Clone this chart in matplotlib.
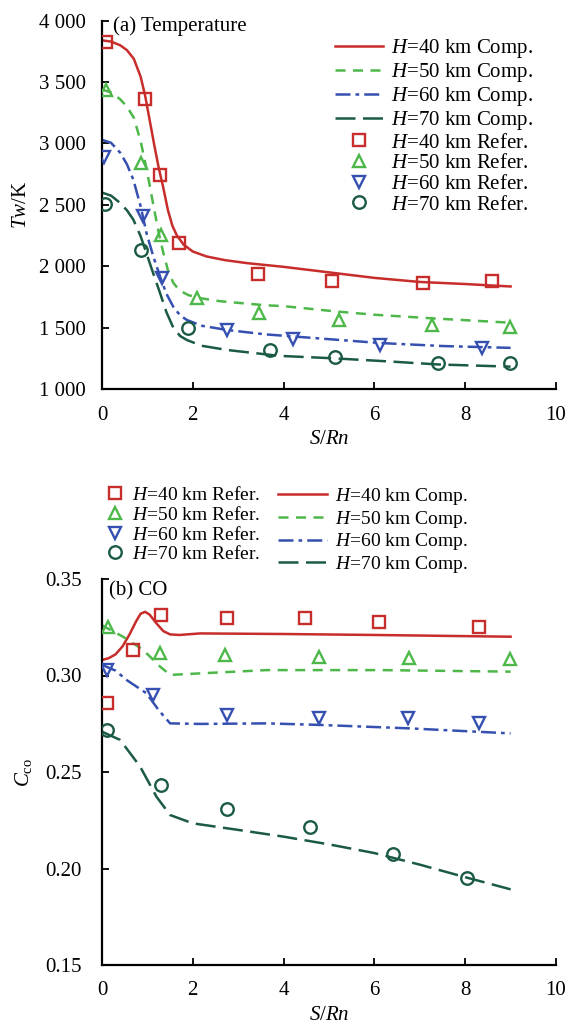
import matplotlib
matplotlib.use("Agg")
import matplotlib.pyplot as plt
from matplotlib.lines import Line2D
from matplotlib.ticker import FuncFormatter

plt.rcParams['font.family'] = ['Liberation Serif', 'DejaVu Serif']
plt.rcParams['mathtext.fontset'] = 'custom'
plt.rcParams['mathtext.rm'] = 'Liberation Serif'
plt.rcParams['mathtext.it'] = 'Liberation Serif:italic'
plt.rcParams['font.size'] = 15

altitudes = ["40", "50", "60", "70"]
colors = ["#c62d2b", "#4db849", "#3550b0", "#1b5a44"]
ref_colors = ["#c62d2b", "#4db849", "#3550b0", "#1b5a44"]
markers = ["s", "^", "v", "o"]
linestyles = ["-", (0, (4, 3)), (0, (6, 2, 1.5, 2)), (0, (8, 3))]

# (a) Temperature, computed curves
temp_comp_x = [
    [0, 0.2, 0.4, 0.55, 0.7, 0.85, 0.95, 1.05, 1.15, 1.25, 1.35, 1.45, 1.55, 1.65, 1.8, 2.0, 2.3,
     2.7, 3.2, 4.0, 5.0, 6.0, 7.0, 8.0, 9.0],
    [0, 0.2, 0.4, 0.55, 0.7, 0.85, 1.0, 1.13, 1.25, 1.35, 1.45, 1.57, 1.7, 1.9, 2.16, 2.6, 3.6,
     4.0, 5.2, 6.0, 7.3, 9.0],
    [0, 0.2, 0.4, 0.55, 0.69, 0.85, 0.98, 1.13, 1.28, 1.42, 1.57, 1.72, 1.87, 2.2, 2.75, 3.6,
     4.5, 6.1, 7.5, 9.0],
    [0, 0.2, 0.4, 0.55, 0.69, 0.85, 0.98, 1.13, 1.28, 1.42, 1.57, 1.72, 1.87, 2.2, 2.75, 3.9,
     5.1, 6.3, 7.4, 9.0],
]
temp_comp_y = [
    [3840, 3830, 3800, 3760, 3690, 3545, 3390, 3190, 2990, 2800, 2640, 2460, 2330, 2250, 2175,
     2120, 2080, 2050, 2025, 1995, 1950, 1905, 1872, 1855, 1835],
    [3440, 3415, 3360, 3300, 3210, 3020, 2760, 2500, 2270, 2110, 1970, 1865, 1805, 1765, 1740,
     1715, 1682, 1675, 1630, 1605, 1575, 1540],
    [3030, 3005, 2925, 2830, 2705, 2490, 2270, 2080, 1915, 1775, 1670, 1600, 1562, 1515, 1481,
     1445, 1420, 1375, 1350, 1335],
    [2600, 2575, 2515, 2455, 2380, 2245, 2105, 1940, 1780, 1625, 1500, 1432, 1399, 1352, 1318,
     1270, 1250, 1225, 1200, 1182],
]
# (a) Temperature, reference points
temp_ref_x = [
    [0.08, 0.95, 1.28, 1.70, 3.43, 5.07, 7.08, 8.60],
    [0.08, 0.87, 1.29, 2.09, 3.46, 5.22, 7.26, 8.99],
    [0.05, 0.90, 1.33, 2.75, 4.21, 6.12, 8.36],
    [0.07, 0.87, 1.89, 3.70, 5.13, 7.39, 8.99],
]
temp_ref_y = [
    [3829, 3360, 2743, 2187, 1934, 1882, 1861, 1882],
    [3436, 2844, 2254, 1744, 1622, 1562, 1521, 1502],
    [2892, 2409, 1902, 1481, 1405, 1358, 1332],
    [2507, 2132, 1494, 1318, 1263, 1214, 1209],
]

# (b) CO, computed curves
co_comp_x = [
    [0, 0.15, 0.3, 0.45, 0.6, 0.75, 0.85, 0.95, 1.05, 1.2, 1.35, 1.5, 1.7, 2.16, 4.0, 6.0, 9.0],
    [0, 0.47, 0.91, 1.28, 1.5, 2.16, 3.63, 6.12, 9.0],
    [0, 0.3, 0.54, 0.98, 1.25, 1.5, 2.16, 3.63, 4.79, 6.78, 9.0],
    [0, 0.40, 0.84, 1.20, 1.50, 2.0, 3.0, 4.0, 5.0, 6.0, 7.0, 8.0, 9.0],
]
co_comp_y = [
    [0.308, 0.309, 0.311, 0.315, 0.321, 0.328, 0.332, 0.333, 0.3315, 0.327, 0.323, 0.3213,
     0.3210, 0.3218, 0.3215, 0.3210, 0.3201],
    [0.326, 0.320, 0.3132, 0.3046, 0.3003, 0.3011, 0.3028, 0.3028, 0.3020],
    [0.3055, 0.3025, 0.2977, 0.2908, 0.2820, 0.2752, 0.2749, 0.2752, 0.2744, 0.2726, 0.2700],
    [0.2709, 0.2666, 0.2528, 0.2372, 0.2277, 0.2234, 0.2200, 0.2165, 0.2125, 0.2080, 0.2020,
     0.1955, 0.1892],
]
# (b) CO, reference points
co_ref_x = [
    [0.12, 0.69, 1.29, 2.75, 4.47, 6.10, 8.30],
    [0.13, 1.28, 2.72, 4.79, 6.76, 8.99],
    [0.10, 1.12, 2.76, 4.79, 6.75, 8.30],
    [0.10, 1.31, 2.76, 4.58, 6.42, 8.03],
]
co_ref_y = [
    [0.2856, 0.3132, 0.3313, 0.3300, 0.3296, 0.3279, 0.3253],
    [0.3253, 0.3115, 0.3106, 0.3094, 0.3089, 0.3084],
    [0.3028, 0.2899, 0.2795, 0.2778, 0.2778, 0.2752],
    [0.2718, 0.2433, 0.2307, 0.2217, 0.2075, 0.1949],
]

W, H = 569, 1025
fig = plt.figure(figsize=(W / 100, H / 100), dpi=100)
ax1 = fig.add_axes([102 / W, 1 - 389 / H, 454 / W, 368.3 / H])
ax2 = fig.add_axes([102 / W, 1 - 965 / H, 454 / W, 386 / H])


def style_axes(ax, ypad, xpad, xlabelpad):
    for s in ["top", "right"]:
        ax.spines[s].set_visible(False)
    for s in ["left", "bottom"]:
        ax.spines[s].set_linewidth(1.6)
    ax.tick_params(direction="in", length=5, width=1.3, labelsize=15)
    ax.tick_params(axis="y", pad=ypad)
    ax.tick_params(axis="x", pad=xpad)
    ax.set_xlim(0, 10)
    ax.set_xticks([0, 2, 4, 6, 8, 10])
    ax.set_xlabel(r"$S$/$Rn$", fontsize=15, labelpad=xlabelpad)


def comp_handles():
    return [Line2D([], [], color=colors[i], ls=linestyles[i], lw=1.8,
                   label=r"$H$=" + altitudes[i] + " km Comp.") for i in range(4)]


def ref_handles():
    return [Line2D([], [], color=ref_colors[i], ls="none", marker=markers[i], ms=9,
                   mfc="none", mew=1.7, label=r"$H$=" + altitudes[i] + " km Refer.")
            for i in range(4)]


# (a) Temperature
for i in range(4):
    ax1.plot(temp_comp_x[i], temp_comp_y[i], color=colors[i], ls=linestyles[i], lw=1.8, zorder=2)
    ax1.plot(temp_ref_x[i], temp_ref_y[i], ls="none", marker=markers[i], ms=9,
             mfc="none", mec=ref_colors[i], mew=1.7, zorder=3)
style_axes(ax1, 11.5, 12, 3.5)
ax1.set_ylim(1000, 4000)
ax1.set_yticks(range(1000, 4001, 500))
ax1.yaxis.set_major_formatter(FuncFormatter(lambda v, p: f"{int(v):,}".replace(",", " ")))
ax1.set_ylabel(r"$Tw$/K", fontsize=15, labelpad=6)
ax1.text(0.025, 1.012, "(a) Temperature", transform=ax1.transAxes, fontsize=15, va="top", ha="left")
ax1.legend(handles=comp_handles() + ref_handles(), loc="upper left",
           bbox_to_anchor=(335 / W, 1 - 37 / H), bbox_transform=fig.transFigure,
           frameon=False, fontsize=15, handlelength=2.3, handletextpad=0.4,
           labelspacing=0.05, borderpad=0, borderaxespad=0)

# (b) CO
for i in range(4):
    ax2.plot(co_comp_x[i], co_comp_y[i], color=colors[i], ls=linestyles[i], lw=1.8, zorder=2)
    ax2.plot(co_ref_x[i], co_ref_y[i], ls="none", marker=markers[i], ms=9,
             mfc="none", mec=ref_colors[i], mew=1.7, zorder=3)
style_axes(ax2, 14.5, 11.5, 4.5)
ax2.set_ylim(0.15, 0.35)
ax2.set_yticks([0.15, 0.20, 0.25, 0.30, 0.35])
ax2.yaxis.set_major_formatter(FuncFormatter(lambda v, p: f"{v:.2f}"))
ax2.set_ylabel(r"$C_{\mathrm{co}}$", fontsize=15, labelpad=8)
ax2.text(0.015, 0.995, "(b) CO", transform=ax2.transAxes, fontsize=15, va="top", ha="left")
leg_ref = ax2.legend(handles=ref_handles(), loc="upper left",
                     bbox_to_anchor=(105.3 / W, 1 - 486 / H), bbox_transform=fig.transFigure,
                     frameon=False, fontsize=14, handlelength=1.0, handletextpad=0.35,
                     labelspacing=0.09, borderpad=0, borderaxespad=0)
ax2.add_artist(leg_ref)
ax2.legend(handles=comp_handles(), loc="upper left",
           bbox_to_anchor=(278 / W, 1 - 486 / H), bbox_transform=fig.transFigure,
           frameon=False, fontsize=14, handlelength=2.5, handletextpad=0.41,
           labelspacing=0.09, borderpad=0, borderaxespad=0)

fig.savefig("out.png", dpi=100)
